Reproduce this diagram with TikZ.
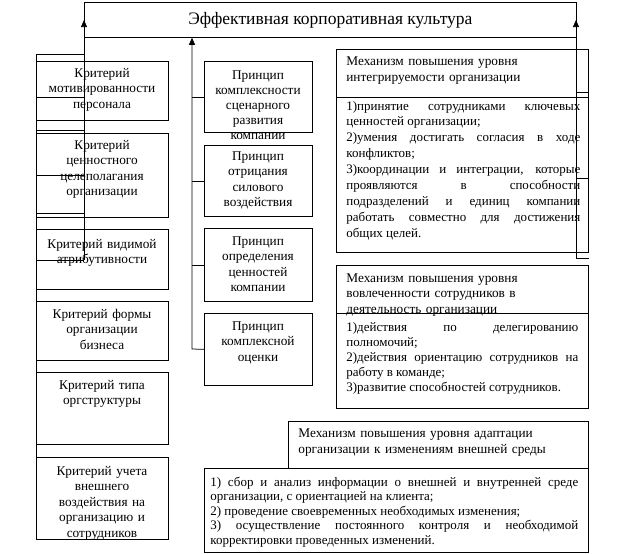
\documentclass[tikz,border=0pt]{standalone}
\usepackage{fontspec}
\setmainfont{Liberation Serif}
\usetikzlibrary{arrows.meta}
\begin{document}
\begin{tikzpicture}[x=1pt, y=-1pt, line width=0.75pt,
    box/.style={draw, anchor=north west, inner sep=0pt},
    txt/.style={anchor=base, inner sep=0pt, align=center,
      font=\fontsize{13.3}{15.5}\selectfont},
    ltxt/.style={anchor=base west, inner sep=0pt, align=left,
      font=\fontsize{13.3}{16}\selectfont},
    jtxt/.style={anchor=base west, inner sep=0pt, align=justify,
      font=\fontsize{13}{15.9}\selectfont,
      execute at begin node={\tolerance=10000\hbadness=10000}},
    arr/.style={-{Triangle[length=7pt,width=6pt]}}]
    \useasboundingbox (0,0) rectangle (637,554);

    \node[box, minimum width=492, minimum height=35,
      font=\fontsize{17.5}{20}\selectfont] (T) at (84,2) {Эффективная корпоративная культура};

    \node[box, minimum width=132, minimum height=59] (L1) at (36,61) {};
    \node[txt, text width=130] (L1t) at (102,77) {Критерий\\мотивированности\\персонала};
    \node[box, minimum width=132, minimum height=84] (L2) at (36,133) {};
    \node[txt, text width=130] (L2t) at (102,149) {Критерий\\ценностного\\целеполагания\\организации};
    \node[box, minimum width=132, minimum height=60] (L3) at (36,229) {};
    \node[txt, text width=130] (L3t) at (102,248) {Критерий видимой\\атрибутивности};
    \node[box, minimum width=132, minimum height=59] (L4) at (36,301) {};
    \node[txt, text width=130] (L4t) at (102,318) {Критерий формы\\организации\\бизнеса};
    \node[box, minimum width=132, minimum height=72] (L5) at (36,372) {};
    \node[txt, text width=130] (L5t) at (102,389) {Критерий типа\\оргструктуры};
    \node[box, minimum width=132, minimum height=82] (L6) at (36,457) {};
    \node[txt, text width=130] (L6t) at (102,475) {Критерий учета\\внешнего\\воздействия на\\организацию и\\сотрудников};

    \node[box, minimum width=108, minimum height=71] (M1) at (204,61) {};
    \node[txt, text width=106, font=\fontsize{13.3}{15.2}\selectfont] (M1t) at (258,79) {Принцип\\комплексности\\сценарного\\развития\\компании};
    \node[box, minimum width=108, minimum height=71] (M2) at (204,145) {};
    \node[txt, text width=106] (M2t) at (258,160) {Принцип\\отрицания\\силового\\воздействия};
    \node[box, minimum width=108, minimum height=73] (M3) at (204,228) {};
    \node[txt, text width=106] (M3t) at (258,245) {Принцип\\определения\\ценностей\\компании};
    \node[box, minimum width=108, minimum height=72] (M4) at (204,313) {};
    \node[txt, text width=106] (M4t) at (258,330) {Принцип\\комплексной\\оценки};

    \node[box, minimum width=252, minimum height=48] (R1h) at (336,49) {};
    \node[ltxt, text width=240] (R1ht) at (346,65) {Механизм повышения уровня\\интегрируемости организации};
    \node[box, minimum width=252, minimum height=155] (R1c) at (336,97) {};
    \node[jtxt, text width=234] (R1ct) at (346,110) {1)принятие сотрудниками ключевых\linebreak ценностей организации;\par
      2)умения достигать согласия в ходе\linebreak конфликтов;\par
      3)координации и интеграции, которые\linebreak проявляются в способности\linebreak
      подразделений и единиц компании\linebreak работать совместно для достижения\linebreak общих целей.};

    \node[box, minimum width=252, minimum height=48] (R2h) at (336,265) {};
    \node[ltxt, text width=240, font=\fontsize{13.3}{15.5}\selectfont] (R2ht) at (346,282) {Механизм повышения уровня\\вовлеченности сотрудников в\\деятельность организации};
    \node[box, minimum width=252, minimum height=95] (R2c) at (336,313) {};
    \node[jtxt, text width=232, font=\fontsize{13}{15.2}\selectfont] (R2ct) at (346,331) {1)действия по делегированию\linebreak полномочий;\par
      2)действия ориентацию сотрудников на\linebreak работу в команде;\par
      3)развитие способностей сотрудников.};

    \node[box, minimum width=300, minimum height=47] (R3h) at (288,421) {};
    \node[ltxt, text width=285] (R3ht) at (298,437) {Механизм повышения уровня адаптации\\организации к изменениям внешней среды};
    \node[box, minimum width=384, minimum height=84] (R3c) at (204,468) {};
    \node[jtxt, text width=368, font=\fontsize{13}{14.5}\selectfont] (R3ct) at (210,486) {1) сбор и анализ информации о внешней и внутренней среде\linebreak организации, с ориентацией на клиента;\par
      2) проведение своевременных необходимых изменения;\par
      3) осуществление постоянного контроля и необходимой\linebreak корректировки проведенных изменений.};

    \coordinate (lcorner) at (36,54);
    \coordinate (lbot) at (84,260);
    \coordinate (ltop) at (84,20);
    \draw (L6.south west) -- (lcorner) -- (lcorner -| lbot);
    \draw[arr] (lbot) -- (ltop);
    \draw (36,97) -- (84,97);
    \draw (36,130) -- (84,130);
    \draw (36,175) -- (84,175);
    \draw (36,213) -- (84,213);
    \draw (36,260) -- (lbot);

    \coordinate (mbot) at (192,349);
    \draw[arr] (M4.west) -- (mbot) -- (mbot |- T.south);
    \draw (M1.west) -- (M1.west -| mbot);
    \draw (M2.west) -- (M2.west -| mbot);
    \draw (M3.west) -- (M3.west -| mbot);

    \coordinate (rbot) at (576,258);
    \coordinate (rtop) at (576,20);
    \draw[arr] (rbot -| R1c.east) -- (rbot) -- (rtop);
    \draw (576,92) -- (588,92);
    \draw (576,178) -- (588,178);
\end{tikzpicture}
\end{document}
